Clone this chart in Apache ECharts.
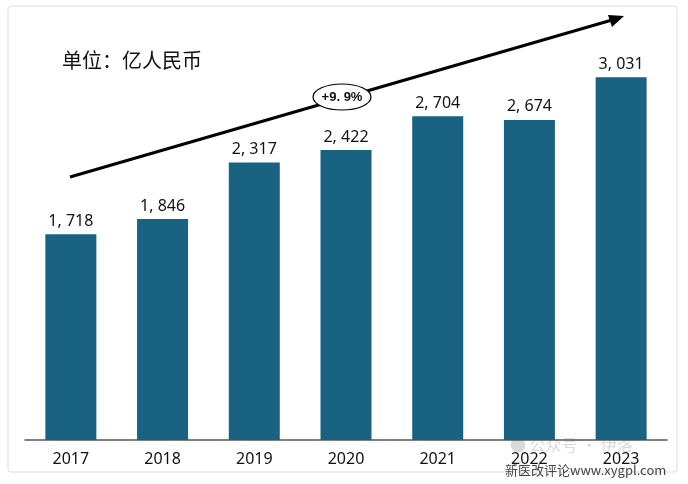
<!DOCTYPE html>
<html><head><meta charset="utf-8">
<script src="https://cdn.jsdelivr.net/npm/echarts@6/dist/echarts.min.js"></script>
<style>html,body{margin:0;background:#fff}#main{width:688px;height:484px}</style>
</head><body><div id="main"></div>
<script>
var years=['2017','2018','2019','2020','2021','2022','2023'];
var revenue=[1718,1846,2317,2422,2704,2674,3031];
var myChart=echarts.init(document.getElementById('main'));
var option={
    animation:false,
    grid:{left:25,right:21,top:21,bottom:44},
    xAxis:{type:'category',data:years,
        axisLine:{lineStyle:{color:'#555',width:1.5}},axisTick:{show:false},
        axisLabel:{color:'#111',fontSize:16,fontFamily:'Noto Sans',margin:11}},
    yAxis:{type:'value',min:0,max:3500,show:false,splitLine:{show:false}},
    graphic:[
        {type:'rect',shape:{x:8,y:6,width:669,height:466,r:3},style:{fill:'none',stroke:'#ddd',lineWidth:1}},
        {type:'text',left:62,top:50,style:{text:'单位：亿人民币',font:'20px "Noto Sans CJK SC"',fill:'#111'}},
        {type:'line',shape:{x1:70,y1:177,x2:612,y2:20},style:{stroke:'#000',lineWidth:3}},
        {type:'polygon',shape:{points:[[624,16],[608,15],[612,27]]},style:{fill:'#000'}},
        {type:'ellipse',shape:{cx:342,cy:97,rx:29,ry:13},style:{fill:'#fff',stroke:'#000',lineWidth:1.2}},
        {type:'text',x:342,y:97,style:{text:'+9. 9%',font:'bold 13px "Liberation Sans"',fill:'#111',align:'center',verticalAlign:'middle'}},
        {type:'text',x:510,y:437,style:{text:'● 公众号 · 伊洛',font:'16px "Noto Sans CJK SC"',fill:'rgba(150,150,150,0.35)'}},
        {type:'text',x:505,y:464,style:{text:'新医改评论www.xygpl.com',font:'13px "Noto Sans CJK SC"',fill:'#444'}}
    ],
    series:[{type:'bar',data:revenue,barWidth:51,
        itemStyle:{color:'#1a6282'},
        label:{show:true,position:'top',color:'#111',fontSize:16,fontFamily:'Noto Sans',distance:5,
            formatter:function(p){return p.value.toLocaleString('en-US').replace(',',', ');}}}]
};
myChart.setOption(option);
</script></body></html>
